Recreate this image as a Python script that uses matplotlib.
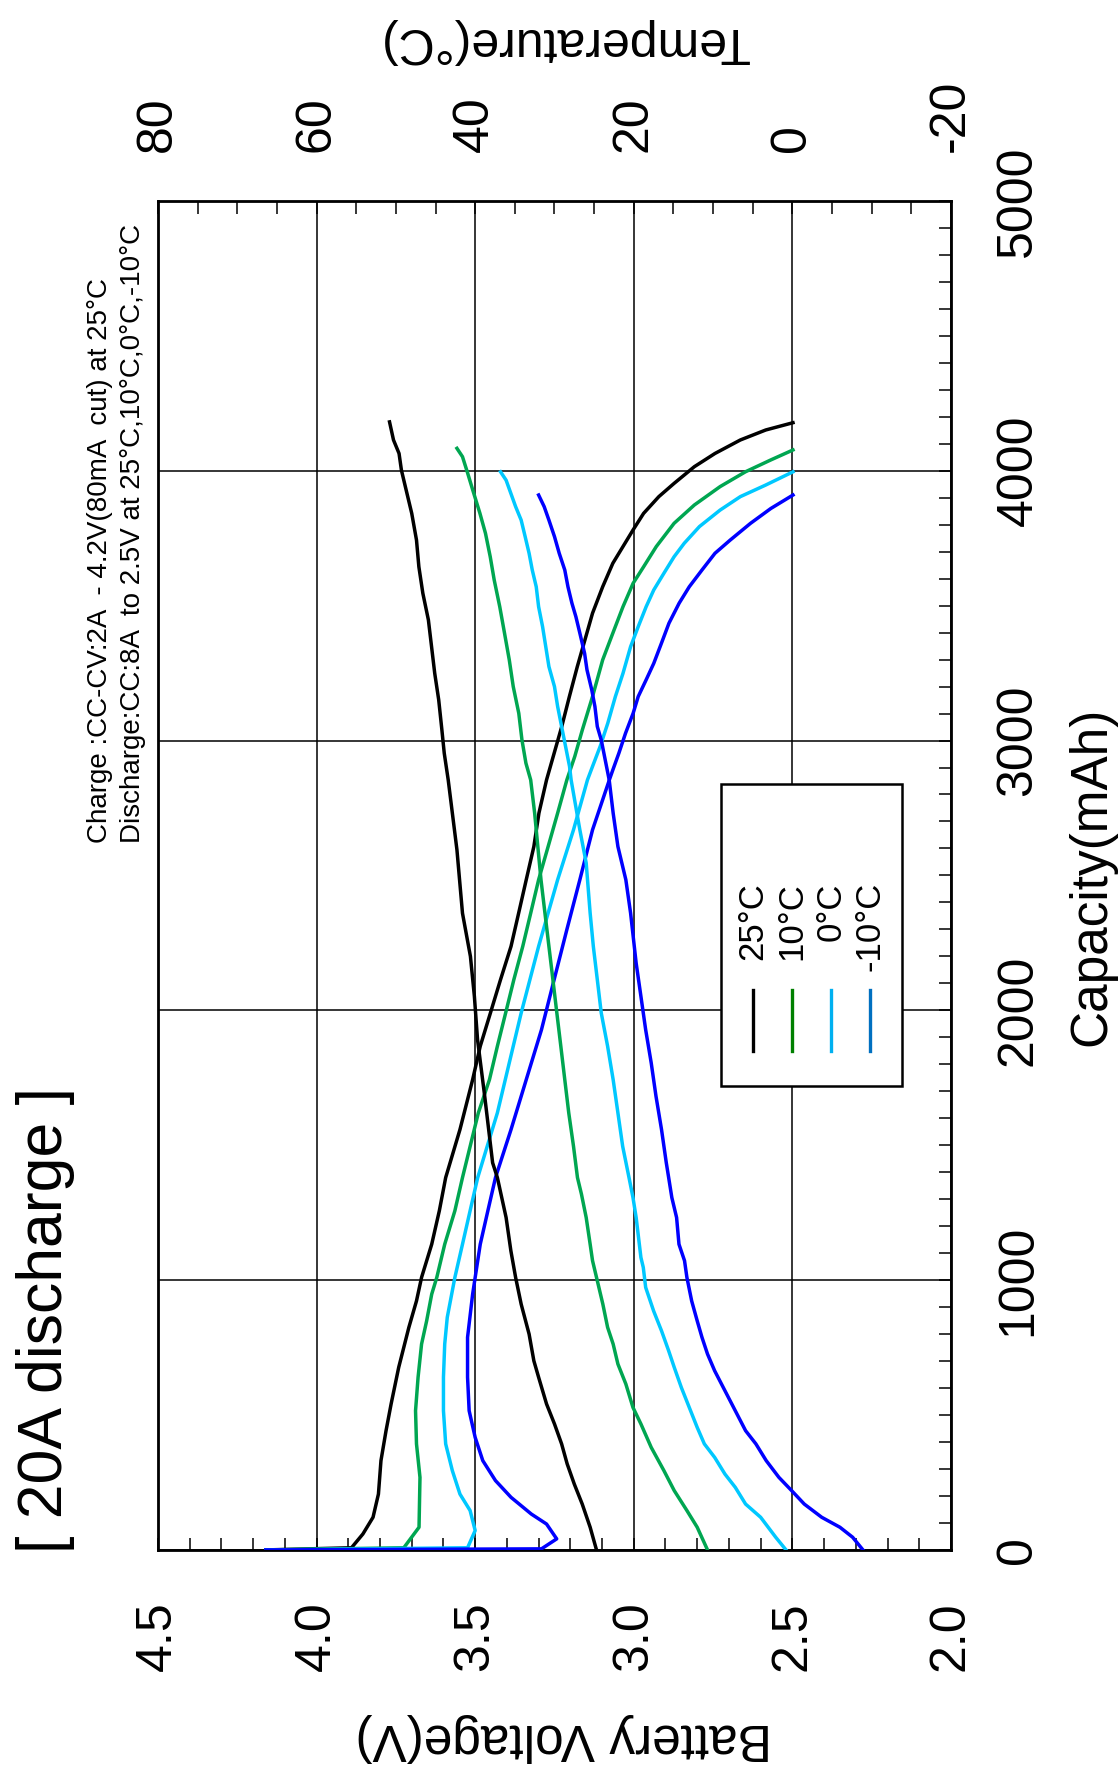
import matplotlib
matplotlib.use("Agg")
import matplotlib.pyplot as plt
from matplotlib.ticker import MultipleLocator
from matplotlib.lines import Line2D
from matplotlib.patches import Rectangle

plt.rcParams['font.family'] = ['Liberation Sans', 'DejaVu Sans']
plt.rcParams['axes.unicode_minus'] = False

# ---- values: capacity (mAh) -> voltage (V) / temperature (degC)
cap_v25 = [0, 8, 59, 121, 207, 331, 442, 541, 677, 825, 923, 1010, 1133, 1257, 1380,
           1558, 1743, 1867, 1990, 2114, 2237, 2360, 2484, 2607, 2731, 2854, 2953,
           3052, 3163, 3274, 3373, 3472, 3570, 3657, 3719, 3781, 3842, 3904, 3953,
           4015, 4064, 4114, 4151, 4178]
v25 = [4.16, 3.89, 3.854, 3.822, 3.805, 3.797, 3.781, 3.765, 3.741, 3.709, 3.685, 3.669,
       3.637, 3.613, 3.593, 3.548, 3.508, 3.484, 3.452, 3.42, 3.387, 3.363, 3.339, 3.315,
       3.299, 3.275, 3.251, 3.227, 3.203, 3.178, 3.154, 3.13, 3.098, 3.066, 3.034, 3.002,
       2.969, 2.921, 2.873, 2.809, 2.744, 2.664, 2.584, 2.498]

cap_v10 = [0, 8, 84, 269, 393, 516, 640, 763, 849, 948, 1010, 1133, 1257, 1380, 1500,
           1620, 1743, 1867, 1990, 2114, 2237, 2360, 2484, 2607, 2731, 2854, 2941, 3040,
           3163, 3299, 3398, 3496, 3583, 3644, 3719, 3805, 3873, 3941, 3996, 4040, 4077]
v10 = [4.16, 3.725, 3.677, 3.674, 3.685, 3.688, 3.68, 3.669, 3.653, 3.637, 3.621, 3.596,
       3.564, 3.54, 3.515, 3.49, 3.455, 3.43, 3.404, 3.378, 3.35, 3.325, 3.30, 3.27, 3.24,
       3.211, 3.186, 3.162, 3.13, 3.098, 3.066, 3.034, 3.002, 2.969, 2.929, 2.873, 2.809,
       2.728, 2.648, 2.568, 2.498]

cap_v0 = [0, 8, 72, 146, 207, 294, 393, 516, 640, 763, 862, 1010, 1133, 1257, 1380, 1620,
          1867, 1990, 2237, 2484, 2669, 2854, 2904, 2978, 3064, 3163, 3249, 3348, 3422,
          3496, 3558, 3620, 3681, 3731, 3793, 3854, 3904, 3947, 3996]
v0 = [4.16, 3.524, 3.50, 3.516, 3.548, 3.572, 3.593, 3.60, 3.60, 3.596, 3.588, 3.564, 3.54,
      3.516, 3.492, 3.43, 3.38, 3.355, 3.30, 3.24, 3.19, 3.146, 3.13, 3.106, 3.082, 3.058,
      3.034, 3.01, 2.986, 2.961, 2.937, 2.905, 2.873, 2.841, 2.793, 2.728, 2.664, 2.584,
      2.498]

cap_vm10 = [0, 4, 41, 96, 133, 195, 257, 331, 417, 516, 640, 788, 948, 1010, 1133, 1257,
            1380, 1558, 1743, 1928, 2114, 2299, 2484, 2669, 2854, 2891, 2953, 3027, 3101,
            3163, 3225, 3286, 3360, 3435, 3509, 3570, 3632, 3694, 3743, 3805, 3860, 3910]
vm10 = [4.16, 3.291, 3.243, 3.275, 3.323, 3.387, 3.436, 3.476, 3.50, 3.519, 3.524, 3.524,
        3.508, 3.50, 3.484, 3.46, 3.436, 3.387, 3.339, 3.291, 3.251, 3.211, 3.17, 3.13,
        3.077, 3.066, 3.047, 3.026, 3.002, 2.986, 2.961, 2.937, 2.913, 2.889, 2.857, 2.825,
        2.785, 2.744, 2.696, 2.632, 2.568, 2.498]

cap_t25 = [0, 84, 170, 244, 319, 393, 467, 541, 640, 701, 800, 911, 1010, 1109, 1232, 1380,
           1435, 1682, 1891, 2052, 2200, 2360, 2595, 2854, 2953, 3040, 3151, 3249, 3348,
           3447, 3546, 3644, 3743, 3842, 3928, 4002, 4064, 4114, 4181]
t25 = [24.7, 25.5, 26.5, 27.5, 28.4, 29.1, 30.0, 31.0, 32.0, 32.6, 33.2, 34.2, 34.9, 35.5,
       36.1, 37.2, 37.8, 38.8, 39.7, 40.1, 40.6, 41.6, 42.3, 43.4, 43.9, 44.2, 44.6, 45.1,
       45.5, 45.9, 46.6, 47.1, 47.4, 48.0, 48.7, 49.3, 49.6, 50.3, 50.8]

cap_t10 = [0, 84, 146, 220, 294, 380, 467, 528, 615, 689, 763, 825, 911, 998, 1072, 1133,
           1232, 1319, 1380, 1496, 1620, 1743, 1867, 1990, 2114, 2237, 2360, 2484, 2607,
           2731, 2854, 2916, 3002, 3101, 3200, 3299, 3398, 3496, 3595, 3681, 3768, 3842,
           3928, 3996, 4052, 4083]
t10 = [10.7, 12.0, 13.3, 14.9, 16.2, 17.8, 19.1, 20.1, 21.0, 22.0, 22.6, 23.3, 23.9, 24.6,
       25.2, 25.5, 26.0, 26.6, 27.1, 27.6, 28.2, 28.7, 29.2, 29.7, 30.2, 30.7, 31.2, 31.7,
       32.1, 32.5, 33.0, 33.6, 34.1, 34.5, 35.2, 35.7, 36.3, 36.9, 37.6, 38.1, 38.7, 39.4,
       40.3, 41.0, 41.6, 42.3]

cap_t0 = [0, 47, 121, 170, 232, 281, 343, 393, 454, 528, 602, 677, 738, 812, 886, 973, 1047,
          1084, 1158, 1232, 1306, 1380, 1496, 1620, 1743, 1867, 1990, 2114, 2237, 2360,
          2546, 2669, 2854, 2904, 2978, 3052, 3126, 3200, 3274, 3348, 3422, 3496, 3570,
          3632, 3694, 3756, 3817, 3867, 3916, 3965, 3996]
t0 = [0.8, 2.1, 4.0, 5.9, 7.2, 8.5, 9.8, 11.1, 12.0, 13.0, 14.0, 14.9, 15.6, 16.5, 17.5,
      18.5, 18.8, 19.1, 19.4, 19.7, 20.1, 20.6, 21.4, 22.0, 22.6, 23.3, 24.1, 24.6, 25.1,
      25.5, 26.0, 26.8, 27.9, 28.1, 28.6, 29.1, 29.6, 30.0, 30.7, 31.1, 31.5, 32.0, 32.3,
      32.8, 33.2, 33.7, 34.2, 34.9, 35.5, 36.1, 36.8]

cap_tm10 = [0, 47, 84, 121, 170, 220, 269, 331, 393, 442, 516, 590, 664, 726, 788, 849, 923,
            1010, 1072, 1133, 1232, 1306, 1380, 1435, 1558, 1682, 1805, 1928, 2052, 2175,
            2360, 2484, 2607, 2731, 2854, 2928, 3002, 3052, 3126, 3188, 3262, 3323, 3398,
            3459, 3509, 3570, 3632, 3694, 3756, 3817, 3867, 3910]
tm10 = [-8.9, -7.6, -6.0, -3.7, -1.5, 0.1, 1.7, 3.3, 4.6, 5.9, 7.2, 8.5, 9.8, 10.7, 11.4,
        12.0, 12.7, 13.3, 13.6, 14.3, 14.6, 15.2, 15.6, 15.9, 16.5, 17.2, 17.8, 18.5, 19.1,
        19.7, 20.4, 21.0, 22.0, 22.6, 23.1, 23.6, 24.1, 24.6, 24.9, 25.3, 25.9, 26.2, 26.8,
        27.3, 27.8, 28.3, 28.7, 29.4, 30.0, 30.7, 31.3, 32.0]

labels = ['25°C', '10°C', '0°C', '-10°C']
line_colors = ['#000000', '#00A651', '#00C8FF', '#0000FF']
legend_colors = ['#000000', '#008000', '#00B0F0', '#0070C0']

volt_ticks = [4.5, 4.0, 3.5, 3.0, 2.5, 2.0]
temp_ticks = [80, 60, 40, 20, 0, -20]
cap_ticks = [0, 1000, 2000, 3000, 4000, 5000]

# chart is drawn turned on its side: voltage runs along x, capacity up the y axis
fig = plt.figure(figsize=(11.18, 17.75), dpi=100)
ax = fig.add_axes([0.1413, 0.1268, 0.7093, 0.7600])

for c, v, col in zip([cap_v25, cap_v10, cap_v0, cap_vm10], [v25, v10, v0, vm10], line_colors):
    ax.plot(v, c, color=col, lw=2.5, zorder=3)

ax.set_xlim(4.5, 2.0)
ax.set_ylim(0, 5000)
ax.set_xticks(volt_ticks)
ax.set_xticklabels(['%.1f' % t for t in volt_ticks])
ax.xaxis.set_minor_locator(MultipleLocator(0.1))
ax.set_yticks(cap_ticks)
ax.yaxis.set_minor_locator(MultipleLocator(100))
ax.yaxis.tick_right()
ax.tick_params(axis='x', which='both', direction='in', length=8.6, width=1.1,
               labelsize=36, pad=37, labelrotation=90, top=False)
ax.tick_params(axis='y', which='both', direction='in', length=8.6, width=1.1,
               labelsize=36, pad=32, left=False, right=True,
               labelleft=False, labelright=True)
for lab in ax.get_yticklabels():
    lab.set_rotation(90)
    lab.set_va('center')
ax.grid(True, which='major', color='black', lw=1.1)
for s in ax.spines.values():
    s.set_linewidth(2.0)

# temperature scale on top
axt = ax.twiny()
for c, t, col in zip([cap_t25, cap_t10, cap_t0, cap_tm10], [t25, t10, t0, tm10], line_colors):
    axt.plot(t, c, color=col, lw=2.5)
axt.set_xlim(80, -20)
axt.set_ylim(0, 5000)
axt.set_xticks(temp_ticks)
axt.xaxis.set_minor_locator(MultipleLocator(5))
axt.tick_params(axis='x', which='both', direction='in', length=9, width=1.1,
                labelsize=36, pad=35, labelrotation=90)

# legend box, drawn by hand because the entries are turned
axt.add_patch(Rectangle((0.710, 0.344), 0.228, 0.224, transform=axt.transAxes,
                        facecolor='white', edgecolor='black', lw=1.8, zorder=5))
for xx, lab, col in zip([0.750, 0.800, 0.849, 0.898], labels, legend_colors):
    axt.add_line(Line2D([xx, xx], [0.370, 0.415], transform=axt.transAxes,
                        color=col, lw=2.4, zorder=6))
    axt.text(xx, 0.495, lab, transform=axt.transAxes, rotation=90,
             ha='center', va='top', fontsize=25, zorder=6)

fig.text(0.9767, 0.5065, 'Capacity(mAh)', rotation=90, ha='center', va='center', fontsize=37)
fig.text(0.5045, 0.0214, 'Battery Voltage(V)', rotation=180, ha='center', va='center', fontsize=37)
fig.text(0.5045, 0.977, 'Temperature(°C)', rotation=180, ha='center', va='center', fontsize=36)
fig.text(0.0403, 0.125, '[ 20A discharge ]', rotation=90, ha='center', va='bottom', fontsize=45)
fig.text(0.0894, 0.525, 'Charge :CC-CV:2A  - 4.2V(80mA  cut) at 25°C', rotation=90,
         ha='center', va='bottom', fontsize=20)
fig.text(0.119, 0.525, 'Discharge:CC:8A  to 2.5V at 25°C,10°C,0°C,-10°C', rotation=90,
         ha='center', va='bottom', fontsize=20)

fig.savefig('out.png', dpi=100)
